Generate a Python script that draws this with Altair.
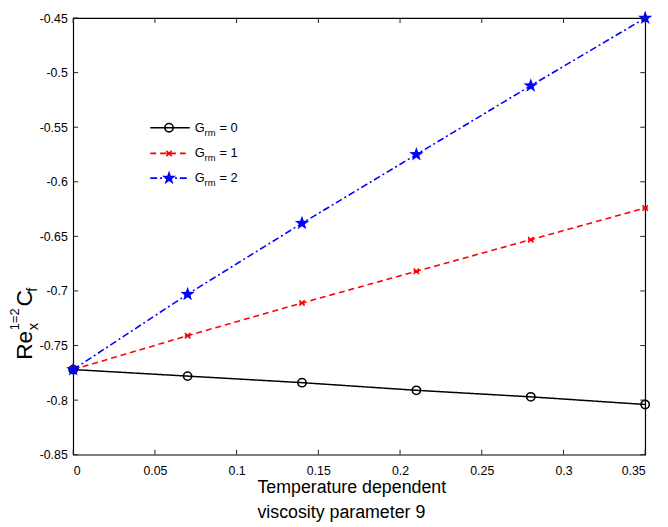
import altair as alt
import pandas as pd

# ---- data ----
x_vals = [0.0, 0.07, 0.14, 0.21, 0.28, 0.35]
g0 = [-0.772, -0.778, -0.784, -0.791, -0.797, -0.804]
g1 = [-0.772, -0.741, -0.711, -0.682, -0.653, -0.624]
g2 = [-0.772, -0.703, -0.638, -0.575, -0.512, -0.450]
series_names = ["0", "1", "2"]
series_vals = [g0, g1, g2]
x_ticks = [0, 0.05, 0.1, 0.15, 0.2, 0.25, 0.3, 0.35]
y_ticks = [-0.85, -0.8, -0.75, -0.7, -0.65, -0.6, -0.55, -0.5, -0.45]

W, H = 579, 442
FONT = "Liberation Sans"

STAR = ("M0,-1L0.235,-0.324L0.951,-0.309L0.380,0.124L0.588,0.809L0,0.4"
        "L-0.588,0.809L-0.380,0.124L-0.951,-0.309L-0.235,-0.324Z")
ASTER = "M-1,-1L1,1M-1,1L1,-1M-1,0L1,0"

styles = [
    dict(color="#000000", dash=[1, 0], shape="circle", size=70, filled=False, sw=1.5),
    dict(color="#ff0000", dash=[6, 4], shape=ASTER, size=30, filled=False, sw=1.6),
    dict(color="#0000ff", dash=[7, 3, 2, 3], shape=STAR, size=230, filled=True, sw=1.6),
]

xs = alt.Scale(domain=[0, 0.35], nice=False, zero=False)
ys = alt.Scale(domain=[-0.85, -0.45], nice=False, zero=False)

lab_expr = ("datum.value < 0 ? '-' + format(-datum.value, '.2~f') : "
            "format(datum.value, '.2~f')")

x_axis = alt.Axis(values=x_ticks, labelExpr=lab_expr, ticks=False, domain=False,
                  grid=False, labelPadding=10, labelFontSize=12.5, labelFont=FONT,
                  labelColor="#000000",
                  title=["Temperature dependent", "viscosity parameter 9"],
                  titleFont=FONT, titleFontSize=18, titleFontWeight="normal",
                  titleAlign="left", titleAnchor="start", titleX=186, titleY=24,
                  titleBaseline="top", titleLineHeight=26, titleColor="#000000")
y_axis = alt.Axis(values=y_ticks, labelExpr=lab_expr, ticks=False, domain=False,
                  grid=False, labelPadding=6, labelFontSize=12.5, labelFont=FONT,
                  labelColor="#000000", title="")


def X(field):
    return alt.X(field, scale=xs, axis=x_axis)


def Y(field):
    return alt.Y(field, scale=ys, axis=y_axis)


layers = []
for i, (name, vals) in enumerate(zip(series_names, series_vals)):
    st = styles[i]
    df = pd.DataFrame({"x": x_vals, "y": vals})
    base = alt.Chart(df)
    line = base.mark_line(color=st["color"], strokeWidth=st["sw"],
                          strokeDash=st["dash"]).encode(x=X("x:Q"), y=Y("y:Q"))
    pts = base.mark_point(shape=st["shape"], size=st["size"], filled=st["filled"],
                          color=st["color"], strokeWidth=1.6, opacity=1,
                          clip=False).encode(x=X("x:Q"), y=Y("y:Q"))
    layers += [line, pts]

# inward ticks on all four sides (drawn through the scales)
xt = alt.Chart(pd.DataFrame({"x": x_ticks}))
yt = alt.Chart(pd.DataFrame({"y": y_ticks}))
tick_style = dict(color="#222222", strokeWidth=1)
layers += [
    xt.mark_rule(**tick_style).encode(x=X("x:Q"), y=alt.value(H), y2=alt.value(H - 5)),
    xt.mark_rule(**tick_style).encode(x=X("x:Q"), y=alt.value(0), y2=alt.value(5)),
    yt.mark_rule(**tick_style).encode(y=Y("y:Q"), x=alt.value(0), x2=alt.value(5)),
    yt.mark_rule(**tick_style).encode(y=Y("y:Q"), x=alt.value(W), x2=alt.value(W - 5)),
]

# manual legend (top-left inside plot)
one = pd.DataFrame({"a": [0]})
rows_y = [111, 137, 162]
for i, name in enumerate(series_names):
    st = styles[i]
    ry = rows_y[i]
    c = alt.Chart(one)
    layers += [
        c.mark_rule(color=st["color"], strokeWidth=st["sw"], strokeDash=st["dash"]).encode(
            x=alt.value(78), x2=alt.value(118), y=alt.value(ry)),
        c.mark_point(shape=st["shape"], size=st["size"], filled=st["filled"],
                     color=st["color"], strokeWidth=1.6, opacity=1).encode(
            x=alt.value(97), y=alt.value(ry)),
        c.mark_text(font=FONT, fontSize=13, align="left", baseline="middle",
                    color="#000000").encode(x=alt.value(123), y=alt.value(ry), text=alt.value("G")),
        c.mark_text(font=FONT, fontSize=9.5, align="left", baseline="middle",
                    color="#000000").encode(x=alt.value(133), y=alt.value(ry + 5), text=alt.value("rm")),
        c.mark_text(font=FONT, fontSize=13, align="left", baseline="middle",
                    color="#000000").encode(x=alt.value(148), y=alt.value(ry), text=alt.value("= " + name)),
    ]

# y-axis title: Re_x^{1=2} C_f, rotated
ytitle_parts = [
    ("Re", 23, -42, 346),
    ("x", 15, -36, 316),
    ("1=2", 13, -55, 316),
    ("C", 23, -42, 292),
    ("f", 15, -37, 277),
]
for txt, fs, px, py in ytitle_parts:
    layers.append(alt.Chart(one).mark_text(font=FONT, fontSize=fs, angle=270, align="left",
                                           baseline="alphabetic", color="#000000").encode(
        x=alt.value(px), y=alt.value(py), text=alt.value(txt)))

chart = alt.layer(*layers).properties(
    width=W, height=H,
    background="white",
    autosize=alt.AutoSizeParams(type="none"),
    padding={"left": 66, "top": 7, "right": 15, "bottom": 70},
).configure_view(stroke="#000000", strokeWidth=1.2)

chart.save("out.html", embed_options={"renderer": "svg", "actions": False})
